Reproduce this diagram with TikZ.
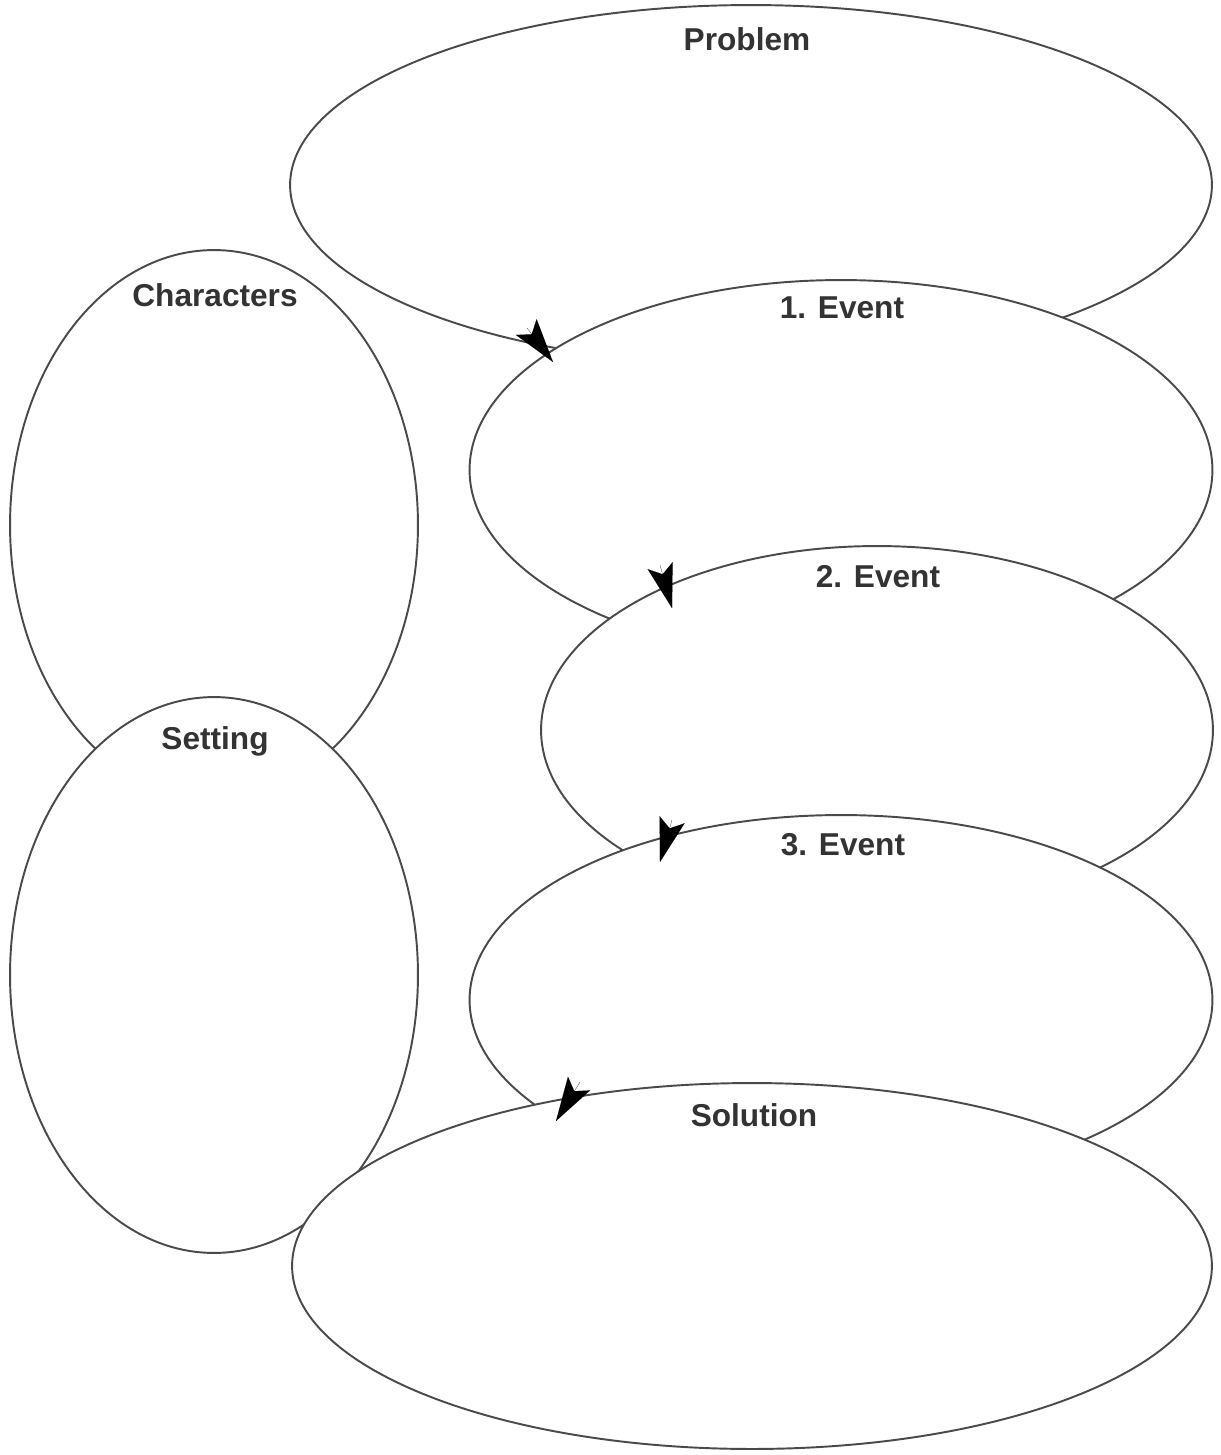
\documentclass[tikz,border=0pt]{standalone}
\usepackage{fontspec}
\setmainfont{Liberation Sans}
\usetikzlibrary{shapes, arrows.meta, positioning}
\definecolor{linegray}{HTML}{4A4A4A}
\definecolor{textgray}{HTML}{333333}
\tikzset{
	blob/.style={ellipse, draw=linegray, fill=white, line width=1.1pt, inner sep=0pt},
	title/.style={font=\fontsize{18}{20}\selectfont\bfseries, text=textgray},
	head/.style={-{Stealth[length=0.88cm, width=0.52cm, inset=0.18cm]}, draw=black, fill=black, line width=0.01pt}
}

\begin{document}
\begin{tikzpicture}[x=0.02cm, y=-0.02cm]
\fill[white] (0,0) rectangle (1221,1455);
\useasboundingbox (0,0) rectangle (1221,1455);
% plot chain on the right
\node[blob, minimum width=18.44cm, minimum height=7.2cm] (problem) at (751,185) {};
\node[blob, minimum width=14.86cm, minimum height=7.6cm] (event1) at (841,470) {};
\node[blob, minimum width=13.44cm, minimum height=7.36cm] (event2) at (877,730) {};
\node[blob, minimum width=14.86cm, minimum height=7.4cm] (event3) at (841,1000) {};
% characters and setting on the left
\node[blob, minimum width=8.16cm, minimum height=11cm] (characters) at (214,525) {};
\node[blob, minimum width=8.16cm, minimum height=11.12cm] (setting) at (214,975) {};
\node[blob, minimum width=18.4cm, minimum height=7.32cm] (solution) at (752,1266) {};
\node[title] (problemlbl) at (747,39) {Problem};
\node[title] (event1lbl) at (842,308) {1. Event};
\node[title] (event2lbl) at (878,577) {2. Event};
\node[title] (event3lbl) at (843,845) {3. Event};
\node[title] (characterslbl) at (215,295) {Characters};
\node[title] (settinglbl) at (215,741) {Setting};
\node[title] (solutionlbl) at (754,1115) {Solution};
% arrow heads where one outline runs into the next
\coordinate (back1) at (527,328); \coordinate (tip1) at (553,362);
\coordinate (back2) at (660,565); \coordinate (tip2) at (672,608);
\coordinate (back3) at (672,820); \coordinate (tip3) at (660,862);
\coordinate (back4) at (580,1082); \coordinate (tip4) at (556,1121);
\foreach \i in {1,...,4}
	\draw[head] (back\i) -- (tip\i);
\end{tikzpicture}
\end{document}
